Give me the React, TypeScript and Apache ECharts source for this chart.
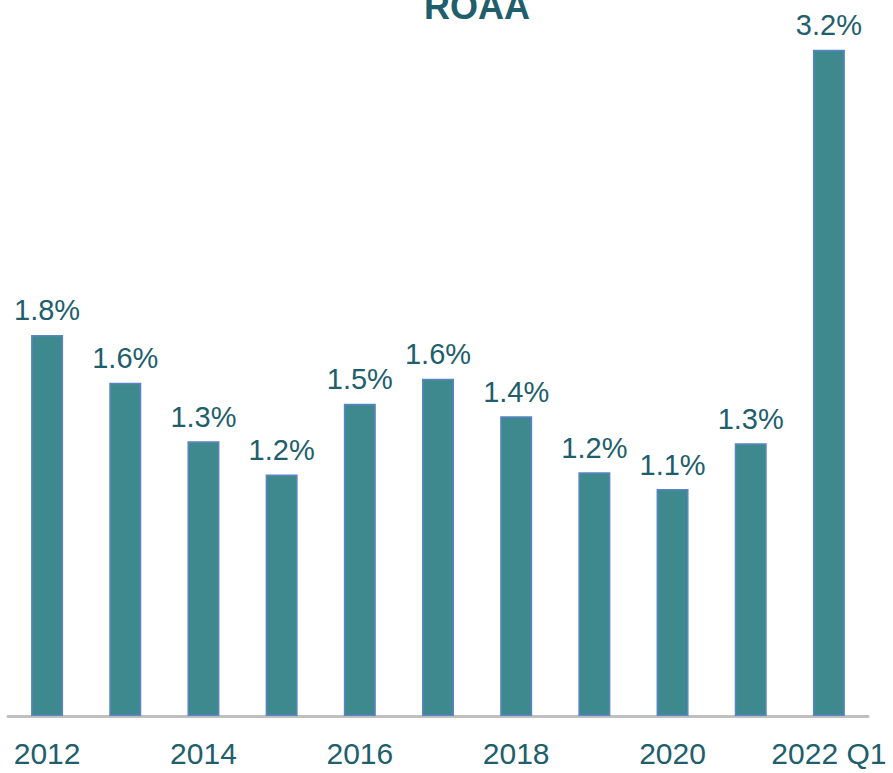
import React, { useEffect, useRef } from "react";
import * as echarts from "echarts";

const categories = ["2012", "2013", "2014", "2015", "2016", "2017", "2018", "2019", "2020", "2021", "2022 Q1"];
const roaaValues = [1.83, 1.6, 1.32, 1.16, 1.5, 1.62, 1.44, 1.17, 1.09, 1.31, 3.2];
const titleText = "ROAA";

const TEXT_COLOR = "#215e6c";
const FONT = "'Liberation Sans', Arial, sans-serif";

export default function App() {
  const ref = useRef<HTMLDivElement>(null);
  useEffect(() => {
    if (!ref.current) return;
    const chart = echarts.init(ref.current, null, { renderer: "svg" });
    chart.setOption({
      animation: false,
      backgroundColor: "#ffffff",
      graphic: [
        {
          type: "text",
          x: 477,
          y: -12,
          style: {
            text: titleText,
            fill: TEXT_COLOR,
            font: `bold 36px ${FONT}`,
            textAlign: "center",
            textVerticalAlign: "top",
          },
        },
      ],
      grid: { left: 8, right: 25, top: 8, bottom: 57, containLabel: false },
      xAxis: {
        type: "category",
        data: categories,
        axisLine: { lineStyle: { color: "#bfbfbf", width: 3 } },
        axisTick: { show: false },
        axisLabel: {
          interval: 1,
          color: TEXT_COLOR,
          fontSize: 30,
          fontFamily: FONT,
          margin: 22,
        },
      },
      yAxis: {
        type: "value",
        min: 0,
        max: 3.4,
        show: false,
        splitLine: { show: false },
      },
      series: [
        {
          type: "bar",
          data: roaaValues,
          barWidth: 32,
          itemStyle: { color: "#3d898e", borderColor: "#5b84c4", borderWidth: 1.5 },
          label: {
            show: true,
            position: "top",
            distance: 10,
            color: TEXT_COLOR,
            fontSize: 29,
            fontFamily: FONT,
            formatter: (p: any) => `${(p.value as number).toFixed(1)}%`,
          },
        },
      ],
    });
    return () => chart.dispose();
  }, []);
  return <div ref={ref} style={{ width: 893, height: 773, position: "absolute", left: 0, top: 0 }} />;
}
